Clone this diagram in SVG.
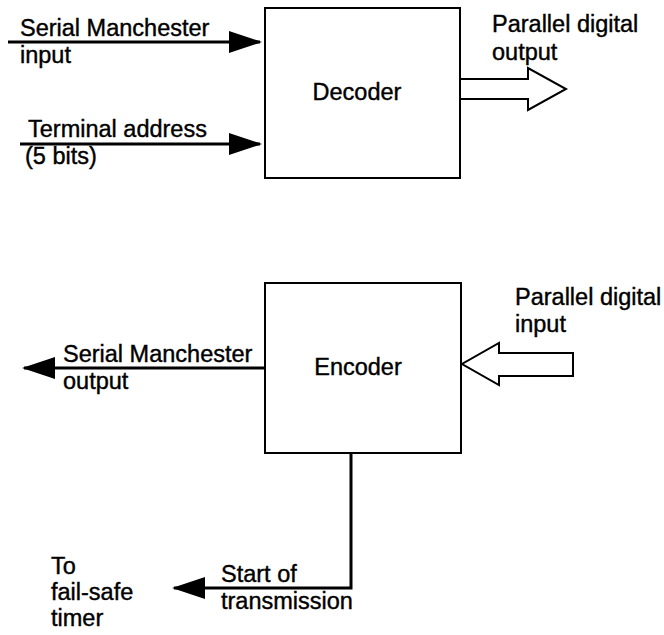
<svg xmlns="http://www.w3.org/2000/svg" width="664" height="635" viewBox="0 0 664 635">
<style>
text{font-family:"Liberation Sans",Arial,sans-serif;font-size:23.5px;fill:#000;stroke:#000;stroke-width:0.4}
.box{fill:#fff;stroke:#000;stroke-width:2}
.wire{fill:none;stroke:#000;stroke-width:3}
.hollow{fill:#fff;stroke:#000;stroke-width:2;stroke-linejoin:miter}
</style>
<defs>
<marker id="ah" viewBox="0 0 33 22" refX="31" refY="11" markerWidth="33" markerHeight="22" markerUnits="userSpaceOnUse" orient="auto">
<path d="M0,0 L33,11 L0,22 z" fill="#000"/>
</marker>
</defs>
<rect width="664" height="635" fill="#fff"/>
<g id="connectors">
<line class="wire" x1="8" y1="42" x2="260" y2="42" marker-end="url(#ah)"/>
<line class="wire" x1="20" y1="144" x2="260" y2="144" marker-end="url(#ah)"/>
<line class="wire" x1="265" y1="368" x2="24" y2="368" marker-end="url(#ah)"/>
<polyline class="wire" points="351,454 351,588 174,588" marker-end="url(#ah)"/>
<polygon class="hollow" points="460,79 528,79 528,68 566,89 528,110 528,99 460,99"/>
<polygon class="hollow" points="573,353 499,353 499,343 462,364 499,385 499,376 573,376"/>
</g>
<g id="decoder">
<rect class="box" x="265" y="8" width="195" height="170"/>
<text x="357" y="100" text-anchor="middle">Decoder</text>
</g>
<g id="encoder">
<rect class="box" x="265" y="283" width="196" height="170"/>
<text x="358" y="375" text-anchor="middle">Encoder</text>
</g>
<g id="labels">
<text x="20" y="36">Serial Manchester</text>
<text x="20" y="63">input</text>
<text x="28" y="137">Terminal address</text>
<text x="25" y="164">(5 bits)</text>
<text x="492" y="32">Parallel digital</text>
<text x="492" y="60">output</text>
<text x="515" y="305">Parallel digital</text>
<text x="515" y="332">input</text>
<text x="63" y="362">Serial Manchester</text>
<text x="63" y="389">output</text>
<text x="221" y="582">Start of</text>
<text x="221" y="609">transmission</text>
<text x="51" y="574">To</text>
<text x="51" y="600">fail-safe</text>
<text x="51" y="626">timer</text>
</g>
</svg>
